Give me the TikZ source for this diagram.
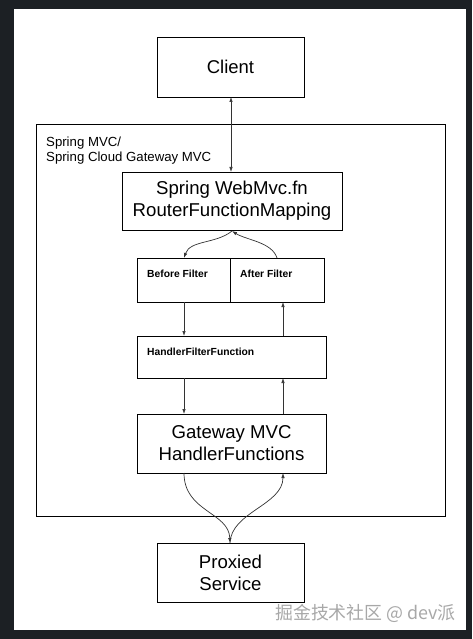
\documentclass[tikz,border=0pt]{standalone}
\usepackage{fontspec}
\setmainfont{Liberation Sans}
\newfontfamily\cjkfont{Noto Sans CJK SC}
\usetikzlibrary{arrows.meta}
\definecolor{frame}{HTML}{1C2024}
\definecolor{wm}{HTML}{A8A8A8}
\definecolor{conn}{HTML}{333333}
\tikzset{
  box/.style={draw=black, line width=0.9pt, inner sep=0pt, align=center},
  conn/.style={draw=conn, line width=0.7pt, -{Latex[length=5pt,width=3.5pt]}},
  big/.style={font=\fontsize{18.6}{22}\selectfont},
  small/.style={font=\bfseries\fontsize{10.3}{12}\selectfont},
}
\begin{document}
\begin{tikzpicture}[x=1pt,y=-1pt]
\useasboundingbox (0,0) rectangle (472,639);
\fill[frame] (0,0) rectangle (472,639);
\fill[white] (14,9) rectangle (466,630);

% container
\node[box, minimum width=409pt, minimum height=392pt, anchor=north west] (cont) at (36,124) {};
\node[anchor=north west, align=left, inner sep=0pt, font=\fontsize{13.2}{14.5}\selectfont] (contlbl) at (46,137) {Spring MVC/\\Spring Cloud Gateway MVC};

% boxes
\node[box, big, minimum width=147pt, minimum height=60pt, font=\fontsize{18.5}{22}\selectfont] (client) at (230.5,67) {Client};
\node[box, big, minimum width=220pt, minimum height=58pt] (webmvc) at (232,201) {Spring WebMvc.fn\\RouterFunctionMapping};
\node[box, minimum width=93pt, minimum height=44pt, anchor=north west] (before) at (137,258) {};
\node[box, minimum width=94pt, minimum height=44pt, anchor=north west] (after) at (230,258) {};
\node[small, anchor=base west, inner sep=0pt] (beforelbl) at (147,277) {Before Filter};
\node[small, anchor=base west, inner sep=0pt] (afterlbl) at (240,277) {After Filter};
\node[box, minimum width=189pt, minimum height=42pt, anchor=north west] (hff) at (137,336) {};
\node[small, anchor=base west, inner sep=0pt] (hfflbl) at (147,355.5) {HandlerFilterFunction};
\node[box, big, minimum width=189pt, minimum height=59pt] (gw) at (231.5,443.5) {Gateway MVC\\HandlerFunctions};
\node[box, big, minimum width=147pt, minimum height=59pt] (proxy) at (230.5,572.5) {Proxied\\Service};

% watermark
\node[anchor=west, inner sep=0pt, text=wm, font=\cjkfont\fontsize{17.9}{20}\selectfont] (wmark) at (275,613) {掘金技术社区 @ dev派};

% coordinates
\coordinate (cl) at (231,97);
\coordinate (wt) at (231,172);
\coordinate (wb) at (232,231);
\coordinate (bt) at (184,258);
\coordinate (at) at (277,258);
\coordinate (bb) at (184,302);
\coordinate (ab) at (283,302);
\coordinate (ht1) at (184,336);
\coordinate (ht2) at (283,336);
\coordinate (hb1) at (184,378);
\coordinate (hb2) at (283,378);
\coordinate (gt1) at (184,414);
\coordinate (gt2) at (283,414);
\coordinate (gb1) at (184,473);
\coordinate (gb2) at (283,473);
\coordinate (pt) at (230,543);

% connectors
\draw[conn, {Latex[length=5pt,width=3.5pt]}-{Latex[length=5pt,width=3.5pt]}] (cl) -- (wt);
\draw[conn] (wb) .. controls (216,244) and (190,240) .. (bt);
\draw[conn] (at) .. controls (272,242) and (246,240) .. (wb);
\draw[conn] (bb) -- (ht1);
\draw[conn] (ht2) -- (ab);
\draw[conn] (hb1) -- (gt1);
\draw[conn] (gt2) -- (hb2);
\draw[conn] (gb1) .. controls (184,512) and (229,512) .. (pt);
\draw[conn] (pt) .. controls (231,512) and (283,505) .. (gb2);
\end{tikzpicture}
\end{document}
